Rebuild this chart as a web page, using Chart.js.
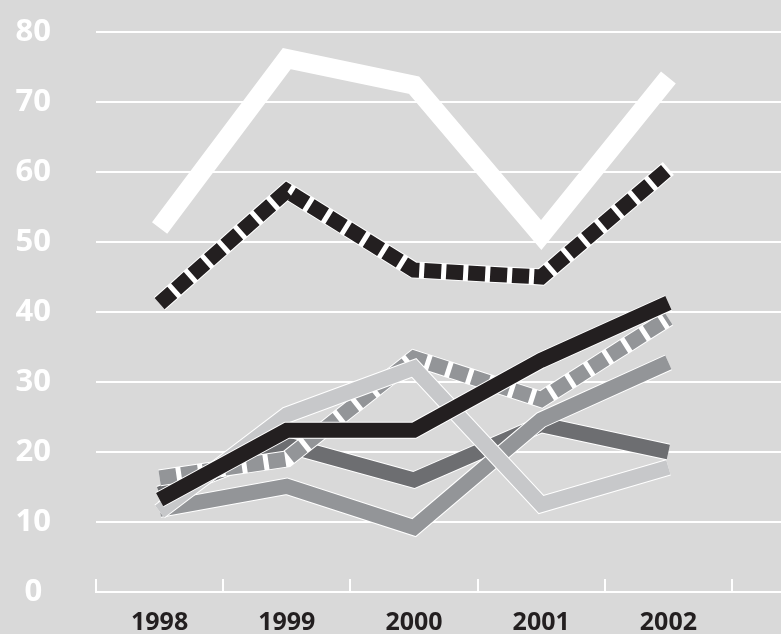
<!DOCTYPE html>
<html>
<head>
<meta charset="utf-8">
<script src="https://cdn.jsdelivr.net/npm/chart.js@4/dist/chart.umd.min.js"></script>
<style>
  html, body { margin: 0; padding: 0; background: #d9d9d9; }
  #wrap { width: 781px; height: 634px; position: relative; }
</style>
</head>
<body>
<div id="wrap"><canvas id="chartCanvas"></canvas></div>
<script>
// dados
const years = ['1998', '1999', '2000', '2001', '2002'];
const whiteLine   = [52, 76.2, 72.4, 51, 73.5];
const blackDashed = [41.2, 57.3, 46, 45, 60.5];
const blackSolid  = [13.2, 23.1, 23.1, 33.1, 41.3];
const greyDashed  = [16.3, 19, 33.4, 27.5, 39.1];
const midGrey     = [11.8, 15.1, 9.2, 24.6, 32.8];
const lightGrey   = [11.5, 25.3, 32, 12.5, 17.8];
const darkGrey    = [14, 21, 16, 23.9, 20];

// linha com contorno branco por baixo
function series(data, color, order, width, dash) {
    const out = [{
        data: data,
        borderColor: color,
        borderWidth: width,
        borderDash: dash || [],
        borderCapStyle: 'butt',
        borderJoinStyle: 'miter',
        pointRadius: 0,
        tension: 0,
        order: order
    }];
    if (color !== '#ffffff') {
        out.push({
            data: data,
            borderColor: '#ffffff',
            borderWidth: width + 2,
            borderCapStyle: 'butt',
            borderJoinStyle: 'miter',
            pointRadius: 0,
            tension: 0,
            order: order + 1
        });
    }
    return out;
}

// prolonga as linhas horizontais até a borda direita
const extendGrid = {
    id: 'extendGrid',
    beforeDatasetsDraw(chart) {
        const ctx = chart.ctx;
        const y = chart.scales.y;
        ctx.save();
        ctx.strokeStyle = '#ffffff';
        ctx.lineWidth = 2;
        y.ticks.forEach(t => {
            const py = Math.round(y.getPixelForValue(t.value));
            ctx.beginPath();
            ctx.moveTo(chart.chartArea.right, py);
            ctx.lineTo(chart.width, py);
            ctx.stroke();
        });
        ctx.restore();
    }
};

const ctx = document.getElementById('chartCanvas').getContext('2d');
new Chart(ctx, {
    type: 'line',
    data: {
        labels: years,
        datasets: [].concat(
            series(whiteLine, '#ffffff', 0, 19),
            series(blackDashed, '#231f20', 2, 15, [17, 5]),
            series(blackSolid, '#231f20', 4, 15),
            series(lightGrey, '#c7c8ca', 6, 15),
            series(midGrey, '#939598', 8, 15),
            series(greyDashed, '#939598', 10, 15, [17, 5]),
            series(darkGrey, '#6d6e71', 12, 15)
        )
    },
    options: {
        responsive: true,
        maintainAspectRatio: false,
        animation: false,
        layout: { padding: { top: 32, right: 49, left: 0, bottom: 0 } },
        plugins: { legend: { display: false }, tooltip: { enabled: false } },
        scales: {
            x: {
                offset: true,
                grid: {
                    offset: true,
                    drawOnChartArea: false,
                    color: '#ffffff',
                    lineWidth: 2,
                    tickLength: -13
                },
                border: { display: true, color: '#ffffff', width: 2 },
                ticks: {
                    color: '#231f20',
                    padding: 29,
                    font: { family: 'Open Sans', weight: 'bold', size: 25 }
                },
                afterFit(scale) { scale.height = 42; }
            },
            y: {
                min: 0,
                max: 80,
                grid: {
                    color: '#ffffff',
                    lineWidth: 2,
                    drawTicks: true,
                    tickLength: 45,
                    tickColor: 'rgba(0,0,0,0)'
                },
                border: { display: false },
                ticks: {
                    stepSize: 10,
                    color: '#ffffff',
                    padding: 0,
                    crossAlign: 'center',
                    font: { family: 'Open Sans', weight: 'bold', size: 31 }
                },
                afterFit(scale) { scale.width = 96; }
            }
        }
    },
    plugins: [extendGrid]
});
</script>
</body>
</html>
